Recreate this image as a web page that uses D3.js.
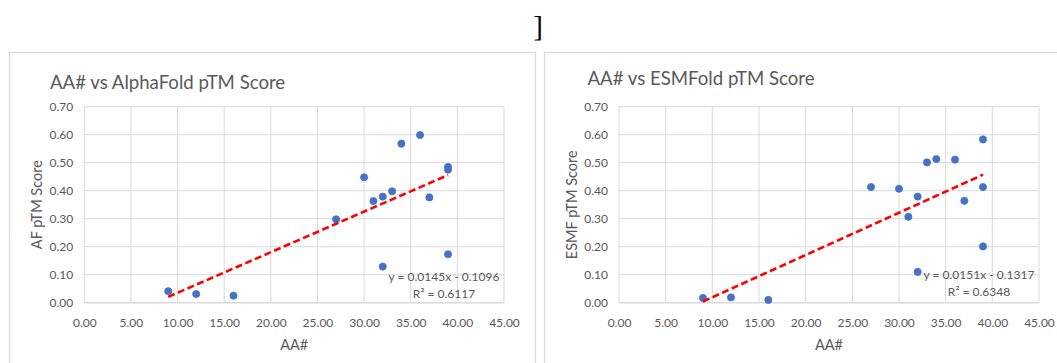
<!DOCTYPE html>
<html>
<head>
<meta charset="utf-8">
<script src="https://cdn.jsdelivr.net/npm/d3@7"></script>
<style>
	body { margin: 0; background: #fff; }
	svg { display: block; }
</style>
</head>
<body>
<div id="viz"></div>
<script>

// amino acid count for each peptide (same order in both charts)
var aaNum = [9, 12, 16, 27, 30, 31, 32, 32, 33, 34, 36, 37, 39, 39, 39]

// pTM scores
var afScore   = [0.041, 0.031, 0.025, 0.298, 0.448, 0.363, 0.379, 0.129, 0.398, 0.568, 0.599, 0.376, 0.485, 0.475, 0.173]
var esmfScore = [0.017, 0.019, 0.010, 0.413, 0.407, 0.307, 0.379, 0.110, 0.501, 0.513, 0.511, 0.364, 0.583, 0.413, 0.201]

// excel linear trendline output
var trendSlope     = [0.0145, 0.0151]
var trendIntercept = [-0.1096, -0.1317]
var rSquared       = [0.6117, 0.6348]

var titles  = ["AA# vs AlphaFold pTM Score", "AA# vs ESMFold pTM Score"]
var yTitles = ["AF pTM Score", "ESMF pTM Score"]
var xTitle  = "AA#"

var xDomain = [0, 45]
var yDomain = [0, 0.70]

var grey = "#595959"
var font = "Lato, 'Open Sans', sans-serif"

var svg = d3.select("#viz")
	.append("svg")
	.attr("width", 1057)
	.attr("height", 363)

// stray bracket above the charts
svg.append("text")
	.text("]")
	.attr("x", 538)
	.attr("y", 36)
	.attr("text-anchor", "middle")
	.attr("font-family", "'Liberation Serif', 'Times New Roman', serif")
	.attr("font-size", 29)
	.attr("fill", "#000")

// panel layout: frame position and plot area inside the frame
var panels = [
	{ fx: 9.5, fy: 52.5, fw: 526, plotLeft: 84.3, plotRight: 504, titleX: 50, titleY: 89, labelX: 444, labelY: 281 },
	{ fx: 544.5, fy: 52.5, fw: 530, plotLeft: 619, plotRight: 1039, titleX: 587.5, titleY: 85, labelX: 979, labelY: 279 }
]

var series = [afScore, esmfScore]

panels.forEach(function(p, i) {

	var top = 106.7, bottom = 302.7

	var x = d3.scaleLinear().domain(xDomain).range([p.plotLeft, p.plotRight])
	var y = d3.scaleLinear().domain(yDomain).range([bottom, top])

	var g = svg.append("g")

	// chart frame
	g.append("rect")
		.attr("x", p.fx)
		.attr("y", p.fy)
		.attr("width", p.fw)
		.attr("height", 340)
		.attr("fill", "#fff")
		.attr("stroke", "#d9d9d9")
		.attr("stroke-width", 1.2)

	g.append("text")
		.text(titles[i])
		.attr("x", p.titleX)
		.attr("y", p.titleY)
		.attr("font-family", font)
		.attr("font-size", 18.6)
		.attr("fill", grey)

	var xTicks = x.ticks(9)
	var yTicks = y.ticks(7)

	// gridlines
	g.selectAll(".vgrid")
		.data(xTicks)
		.enter()
		.append("line")
		.attr("x1", function(d) { return x(d) })
		.attr("x2", function(d) { return x(d) })
		.attr("y1", top)
		.attr("y2", bottom)
		.attr("stroke", "#d9d9d9")
		.attr("stroke-width", 1)

	g.selectAll(".hgrid")
		.data(yTicks)
		.enter()
		.append("line")
		.attr("x1", p.plotLeft)
		.attr("x2", p.plotRight)
		.attr("y1", function(d) { return y(d) })
		.attr("y2", function(d) { return y(d) })
		.attr("stroke", "#d9d9d9")
		.attr("stroke-width", function(d) { return d == 0 ? 1.6 : 1 })

	// axes, only the labels are shown
	var xAxis = g.append("g")
		.attr("transform", "translate(0," + bottom + ")")
		.call(d3.axisBottom(x).tickValues(xTicks).tickFormat(d3.format(".2f")).tickSize(0).tickPadding(16))
	var yAxis = g.append("g")
		.attr("transform", "translate(" + p.plotLeft + ",0)")
		.call(d3.axisLeft(y).tickValues(yTicks).tickFormat(d3.format(".2f")).tickSize(0).tickPadding(11))

	;[xAxis, yAxis].forEach(function(a) {
		a.select(".domain").remove()
		a.selectAll("text")
			.attr("font-family", font)
			.attr("font-size", 12)
			.attr("fill", grey)
	})

	g.append("text")
		.text(xTitle)
		.attr("x", (p.plotLeft + p.plotRight) / 2)
		.attr("y", 350)
		.attr("text-anchor", "middle")
		.attr("font-family", font)
		.attr("font-size", 14.5)
		.attr("fill", grey)

	g.append("text")
		.text(yTitles[i])
		.attr("transform", "translate(" + (p.plotLeft - 42) + "," + ((top + bottom) / 2) + ") rotate(-90)")
		.attr("text-anchor", "middle")
		.attr("font-family", font)
		.attr("font-size", 14.5)
		.attr("fill", grey)

	// scatter points
	var pts = aaNum.map(function(a, j) { return [a, series[i][j]] })
	g.selectAll(".dot")
		.data(pts)
		.enter()
		.append("circle")
		.attr("cx", function(d) { return x(d[0]) })
		.attr("cy", function(d) { return y(d[1]) })
		.attr("r", 3.6)
		.attr("fill", "#4472c4")
		.attr("stroke", "#4472c4")
		.attr("stroke-width", 0.75)

	// dashed linear trendline over the data range
	var xr = d3.extent(aaNum)
	g.append("line")
		.attr("x1", x(xr[0]))
		.attr("y1", y(trendSlope[i] * xr[0] + trendIntercept[i]))
		.attr("x2", x(xr[1]))
		.attr("y2", y(trendSlope[i] * xr[1] + trendIntercept[i]))
		.attr("stroke", "#ff0000")
		.attr("stroke-width", 2.6)
		.attr("stroke-dasharray", "7,3.5")

	var sign = trendIntercept[i] < 0 ? " - " : " + "
	g.append("text")
		.text("y = " + trendSlope[i].toFixed(4) + "x" + sign + Math.abs(trendIntercept[i]).toFixed(4))
		.attr("x", p.labelX)
		.attr("y", p.labelY)
		.attr("text-anchor", "middle")
		.attr("font-family", font)
		.attr("font-size", 12)
		.attr("fill", grey)
	g.append("text")
		.text("R\u00b2 = " + rSquared[i].toFixed(4))
		.attr("x", p.labelX)
		.attr("y", p.labelY + 16.5)
		.attr("text-anchor", "middle")
		.attr("font-family", font)
		.attr("font-size", 12)
		.attr("fill", grey)
})

</script>
</body>
</html>
